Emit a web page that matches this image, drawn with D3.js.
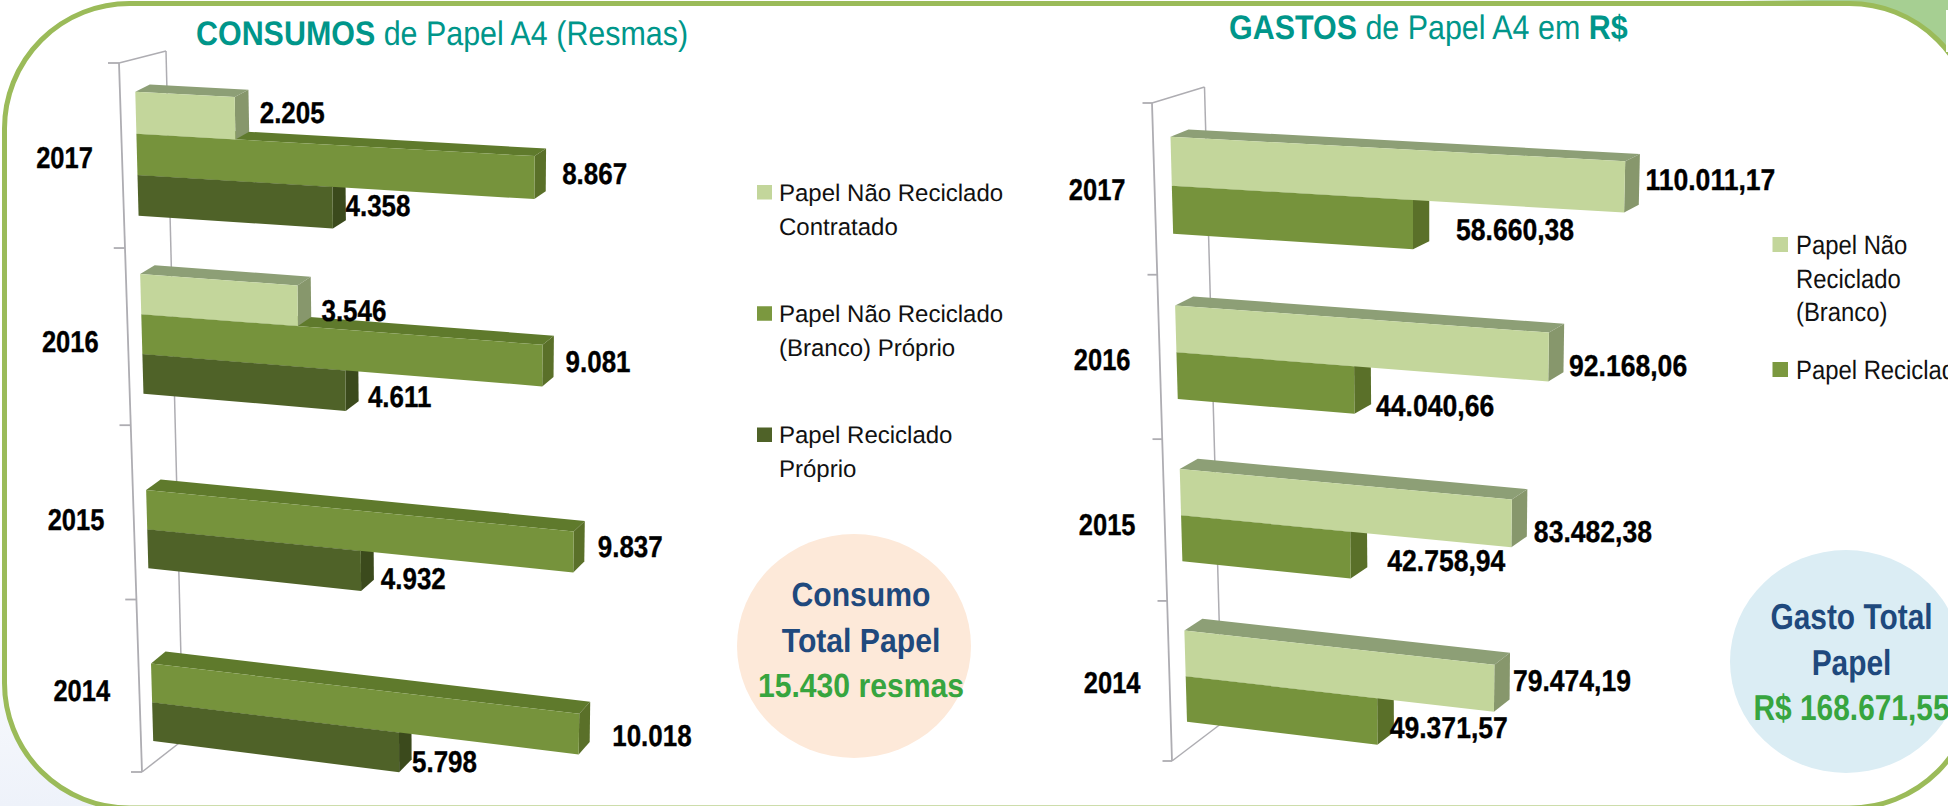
<!DOCTYPE html>
<html><head><meta charset="utf-8">
<style>html,body{margin:0;padding:0;background:#fff;overflow:hidden}svg{display:block}text{font-family:"Liberation Sans",Arial,sans-serif;text-rendering:geometricPrecision}</style>
<script src="https://cdn.jsdelivr.net/npm/d3@7"></script>
</head><body><svg id="c" width="1948" height="806"></svg>
<script>
const years = ["2017","2016","2015","2014"];
const consumoContratado = [2205, 3546, null, null];
const consumoBranco = [8867, 9081, 9837, 10018];
const consumoReciclado = [4358, 4611, 4932, 5798];
const gastoBranco = [110011.17, 92168.06, 83482.38, 79474.19];
const gastoReciclado = [58660.38, 44040.66, 42758.94, 49371.57];
const consumoLegend = [["Papel Não Reciclado","Contratado"],["Papel Não Reciclado","(Branco) Próprio"],["Papel Reciclado","Próprio"]];
const gastoLegend = [["Papel Não","Reciclado","(Branco)"],["Papel Reciclado"]];

// label nudges (layout, not data) relative to each bar's right end: [dx, dy]
const nudgeContratado = [[25,-5.5],[24,5],null,null];
const nudgeBranco = [[27.5,-4.5],[23,-4],[24,-5.5],[33,1.5]];
const nudgeReciclado = [[13,-2],[22.5,6],[20,7.5],[13,9]];
const nudgeGastoBranco = [[20.2,-8],[20.1,8.5],[22,7.5],[18.5,-7.5]];
const nudgeGastoReciclado = [[43,5],[22,15],[37,5],[12.5,6]];
const yearNudgeL = [-3.5,1,3.5,1];
const yearNudgeR = [-2.5,0,2.5,0];

const svg = d3.select("#c");
const defs = svg.append("defs");
const ptBR = d3.formatLocale({decimal:",",thousands:".",grouping:[3],currency:["R$",""]});
const line = d3.line();
const poly = pts => line(pts) + "Z";

function txt(g, x, y, parts, size, sx, anchor, fill, bolder){
  // y is the visual centre of the capitals
  const t = g.append("text").attr("transform",`translate(${x},${y+size*0.358}) scale(${sx},1)`)
    .attr("text-anchor",anchor||"start").attr("font-size",size).attr("fill",fill||"#000");
  if(bolder) t.attr("stroke",fill||"#000").attr("stroke-width",bolder);
  parts.forEach(p=>t.append("tspan").attr("font-weight",p[1]?"bold":"normal").text(p[0]));
  return t;
}

// ---------- frame ----------
const grTop = defs.append("linearGradient").attr("id","gt").attr("x1",0).attr("x2",1).attr("y1",0).attr("y2",0);
grTop.append("stop").attr("offset",0).attr("stop-color","#fff");
grTop.append("stop").attr("offset",.35).attr("stop-color","#a6cf92");
grTop.append("stop").attr("offset",1).attr("stop-color","#a6cf92");
const grBot = defs.append("linearGradient").attr("id","gb").attr("x1",0).attr("x2",0).attr("y1",0).attr("y2",1);
grBot.append("stop").attr("offset",0).attr("stop-color","#fff");
grBot.append("stop").attr("offset",1).attr("stop-color","#eef2fa");
svg.append("rect").attr("width",1948).attr("height",806).attr("fill","#fff");
svg.append("rect").attr("x",1740).attr("y",0).attr("width",208).attr("height",170).attr("fill","url(#gt)");
svg.append("rect").attr("x",0).attr("y",560).attr("width",300).attr("height",246).attr("fill","url(#gb)");
svg.append("rect").attr("x",4.5).attr("y",3.5).attr("width",1970).attr("height",804.5).attr("rx",125).attr("ry",125)
  .attr("fill","#fff").attr("stroke","#9bbb59").attr("stroke-width",5);
svg.append("rect").attr("x",1946).attr("y",10).attr("width",2).attr("height",42).attr("fill","#fff");

// ---------- 3D bar chart ----------
function chart(o){
  const g = svg.append("g");
  const warp = d3.scalePow().exponent(.969).domain([0,4]).range(o.axisY);
  const axisX = d3.scaleLinear().domain([0,4]).range(o.axisX);
  const backX = d3.scaleLinear().domain([0,4]).range(o.backX);
  const backY = d3.scaleLinear().domain([0,4]).range(o.backY);
  const band = d3.scaleBand().domain(years).range([0,4]).paddingInner(o.pad).paddingOuter(o.pad/2);
  const sub = d3.scaleBand().domain(o.series.map(s=>s.name)).range([0,band.bandwidth()]);
  const baseX = d3.scaleLinear().domain([0,4]).range(o.baseX);
  const lenAt = d3.scaleLinear().domain([0,4]).range(o.len);
  const slope = d3.scaleLinear().domain([0,4]).range(o.slope);
  const val = d3.scaleLinear().domain([0,o.vmax]).range([0,1]);
  const depX = d3.scaleLinear().domain([0,1]).range(o.depX);
  const depY = d3.scaleLinear().domain([0,4]).range(o.depY);
  const P = (v,t) => { const l = lenAt(t)*val(v); return [baseX(t)+l, warp(t)+o.off+l*slope(t)]; };
  const B = (v,t) => { const p = P(v,t); return [p[0]+depX(val(v)), p[1]+depY(t)]; };

  // walls
  const seg = (a,b,w)=>g.append("path").attr("d",line([a,b])).attr("fill","none").attr("stroke","#aeadb2").attr("stroke-width",w||1.8);
  seg([axisX(0),warp(0)],[axisX(4),warp(4)]);
  seg([backX(0),backY(0)],[backX(4),backY(4)],1.5);
  seg([axisX(0),warp(0)],[backX(0),backY(0)],1.5);
  seg([axisX(4),warp(4)],[backX(4),backY(4)],1.5);
  d3.range(5).forEach(t=>seg([axisX(t)-o.tick,warp(t)],[axisX(t),warp(t)]));

  // bars: lowest series first, so each bar sits on the one beneath
  o.series.slice().reverse().forEach(s=>{
    s.values.forEach((v,i)=>{
      if(v==null) return;
      const t0 = band(years[i])+sub(s.name), t1 = t0+sub.bandwidth();
      const a=P(0,t0), b=P(v,t0), c=P(v,t1), d=P(0,t1);
      const ba=B(0,t0), bb=B(v,t0), bc=B(v,t1);
      g.append("path").attr("d",poly([a,ba,bb,b])).attr("fill",s.top);
      g.append("path").attr("d",poly([b,bb,bc,c])).attr("fill",s.side);
      g.append("path").attr("d",poly([a,b,c,d])).attr("fill",s.face);
    });
  });
  // labels
  o.series.forEach(s=>{
    s.values.forEach((v,i)=>{
      if(v==null) return;
      const t0 = band(years[i])+sub(s.name), t1 = t0+sub.bandwidth();
      const b=P(v,t0), c=P(v,t1), n=s.nudge[i];
      txt(g,b[0]+n[0],(b[1]+c[1])/2+n[1],[[o.fmt(v),true]],30,o.labelSx,"start","#000",.35);
    });
  });
  years.forEach((y,i)=>{
    txt(g,axisX(i+.5)-o.catGap,warp(i+.5)+o.catOff+o.yearNudge[i],[[y,true]],30,.85,"end","#000",.35);
  });
}

const C = {lt:{face:"#c3d69b",top:"#8d9f76",side:"#87976c"},md:{face:"#76933c",top:"#5f7a2c",side:"#5a7029"},dk:{face:"#4f6228",top:"#3f4f1f",side:"#3b4a1c"}};

chart({vmax:10000,axisY:[63,772],axisX:[119,142],backX:[166,183],backY:[51,740],tick:11,pad:.325,off:-3,labelSx:.865,
  baseX:[134.5,154],len:[452,423],slope:[.048,.13],depX:[14.5,11],depY:[-7,-13],catGap:29,catOff:3,yearNudge:yearNudgeL,
  fmt:ptBR.format(",.0f"),
  series:[{name:"a",values:consumoContratado,nudge:nudgeContratado,...C.lt},
          {name:"b",values:consumoBranco,nudge:nudgeBranco,...C.md},
          {name:"c",values:consumoReciclado,nudge:nudgeReciclado,...C.dk}]});

chart({vmax:100000,axisY:[103,761],axisX:[1152,1172],backX:[1204.5,1222],backY:[87,723],tick:9.5,pad:.43,off:-5,labelSx:.885,
  baseX:[1169.5,1188],len:[415,384],slope:[.05,.125],depX:[18,15],depY:[-7,-13],catGap:29,catOff:1.5,yearNudge:yearNudgeR,
  fmt:ptBR.format(",.2f"),
  series:[{name:"a",values:gastoBranco,nudge:nudgeGastoBranco,...C.lt},
          {name:"b",values:gastoReciclado,nudge:nudgeGastoReciclado,...C.md}]});

// ---------- titles ----------
const teal="#00968a";
txt(svg,196,33,[["CONSUMOS",true],[" de Papel A4 (Resmas)",false]],34,.895,"start",teal);
txt(svg,1229,27,[["GASTOS",true],[" de Papel A4 em ",false],["R$",true]],34,.895,"start",teal);

// ---------- legends ----------
const lgL = svg.append("g");
const lgLy = d3.scalePoint().domain(d3.range(3)).range([192,434.5]);
const lgC = [C.lt.face,"#7b983f",C.dk.face];
consumoLegend.forEach((ls,i)=>{
  lgL.append("rect").attr("x",757).attr("y",lgLy(i)-7).attr("width",15).attr("height",14.5).attr("fill",lgC[i]);
  ls.forEach((s,j)=>txt(lgL,779,lgLy(i)+j*34,[[s,false]],24,1,"start","#111"));
});
const lgR = svg.append("g");
const lgRy = [245,370];
gastoLegend.forEach((ls,i)=>{
  lgR.append("rect").attr("x",1772.5).attr("y",lgRy[i]-8).attr("width",15.5).attr("height",15).attr("fill",lgC[i]);
  ls.forEach((s,j)=>txt(lgR,1796,lgRy[i]+j*33.5,[[s,false]],26.5,.9,"start","#111"));
});

// ---------- totals ----------
const navy="#1f497d", green="#37a53f";
svg.append("ellipse").attr("cx",854).attr("cy",646).attr("rx",117).attr("ry",112).attr("fill","#fde9d9");
txt(svg,861,594,[["Consumo",true]],33.5,.9,"middle",navy);
txt(svg,861,640,[["Total Papel",true]],33.5,.9,"middle",navy);
txt(svg,861,685,[["15.430 resmas",true]],33.5,.9,"middle",green);
svg.append("ellipse").attr("cx",1846).attr("cy",661.5).attr("rx",116).attr("ry",111.5).attr("fill","#dbedf4");
txt(svg,1851.5,616,[["Gasto Total",true]],36,.83,"middle",navy);
txt(svg,1851.5,662,[["Papel",true]],36,.83,"middle",navy);
txt(svg,1851.5,707,[["R$ 168.671,55",true]],36,.83,"middle",green);
</script></body></html>
